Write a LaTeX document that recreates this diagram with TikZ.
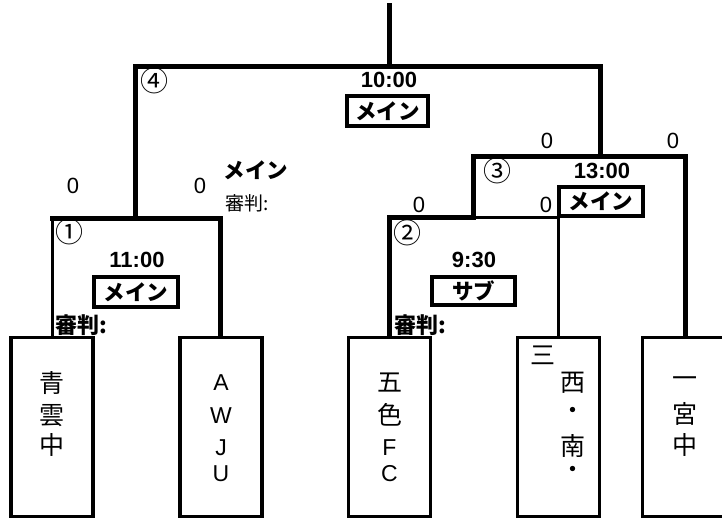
\documentclass[tikz,border=0pt]{standalone}
\usepackage{fontspec}
\setmainfont{Liberation Sans}
\newfontfamily\jp{Noto Sans CJK JP}
\usetikzlibrary{calc}
\begin{document}
\begin{tikzpicture}[x=1pt,y=-1pt,
  thickl/.style={line width=5pt,line cap=rect,line join=miter},
  thinl/.style={line width=3pt,line cap=rect},
  team/.style={draw,line width=3.3pt,minimum width=82pt,minimum height=179pt,inner sep=0pt},
  boxtxt/.style={inner sep=0pt,font=\fontsize{23}{23}\selectfont},
  boxjp/.style={inner sep=0pt,font=\fontsize{25}{25}\selectfont\jp},
  score/.style={inner sep=0pt,font=\fontsize{22}{22}\selectfont},
  timelbl/.style={inner sep=0pt,font=\fontsize{22}{22}\selectfont\bfseries},
  circ/.style={inner sep=0pt,font=\fontsize{28}{28}\selectfont\jp},
  court/.style={draw,line width=4pt,inner sep=0pt,font=\fontsize{21.5}{21.5}\selectfont\jp\bfseries},
  judge/.style={inner sep=0pt,anchor=west,font=\fontsize{22}{22}\selectfont\jp\bfseries},
]
\useasboundingbox (0,0) rectangle (722,519);

% team boxes
\node[team] (b1) at (52,427) {};
\node[team] (b2) at (221,427) {};
\node[team] (b3) at (389.5,427) {};
\node[team] (b4) at (558.3,427) {};
\node[team] (b5) at (683.3,427) {};

% team names
\foreach \c/\y [count=\i] in {青/383.5,雲/416,中/445}
  \node[boxjp] (n1-\i) at (52,\y) {\c};
\foreach \c/\y [count=\i] in {A/383,W/415.5,J/447.5,U/474}
  \node[boxtxt] (n2-\i) at (221,\y) {\c};
\foreach \c/\y [count=\i] in {五/383,色/415}
  \node[boxjp] (n3-\i) at (389.5,\y) {\c};
\foreach \c/\y [count=\i] in {F/448,C/474}
  \node[boxtxt] (n3b-\i) at (389.5,\y) {\c};
\node[boxjp] (n4-0) at (543,355) {三};
\foreach \c/\y [count=\i] in {西/383,・/413,南/446,・/472}
  \node[boxjp] (n4-\i) at (573,\y) {\c};
\foreach \c/\y [count=\i] in {一/382,宮/414,中/445}
  \node[boxjp] (n5-\i) at (685,\y) {\c};

% bracket coordinates
\coordinate (top) at (389.5,5.5);
\coordinate (t4) at (389.5,66.7);
\coordinate (l4) at (135.3,66.7);
\coordinate (r4) at (600.3,66.7);
\coordinate (l1) at (52.3,218);
\coordinate (m1) at (135.3,218);
\coordinate (r1) at (220.8,218);
\coordinate (l3) at (473.8,156.5);
\coordinate (m3) at (600.3,156.5);
\coordinate (r3) at (685.5,156.5);
\coordinate (l2) at (389.5,217);
\coordinate (m2) at (473.8,217);
\coordinate (r2) at (558.7,217);

% brackets
\draw[thickl] (top) -- (t4);
\draw[thickl] (m1) -- (l4) -- (r4) -- (m3);
\draw[thinl] (l1) -- (l1 |- b1.north);
\draw[thickl] (l1) -- (r1) -- (r1 |- b2.north);
\draw[thickl] (m2) -- (l3) -- (r3) -- (r3 |- b5.north);
\draw[thickl] (l2 |- b3.north) -- (l2) -- (m2);
\draw[thinl] (m2) -- (r2) -- (r2 |- b4.north);

% match numbers
\node[circ] (c4) at (154,81) {④};
\node[circ] (c1) at (69,232) {①};
\node[circ] (c2) at (407,233) {②};
\node[circ] (c3) at (497,171) {③};

% times
\node[timelbl] (tm4) at (389,80) {10:00};
\node[timelbl] (tm1) at (137,260) {11:00};
\node[timelbl] (tm2) at (474,260) {9:30};
\node[timelbl] (tm3) at (602,171) {13:00};

% courts
\node[court,minimum width=81pt,minimum height=30pt] (k4) at (387.5,111) {メイン};
\node[court,minimum width=84pt,minimum height=30pt] (k1) at (136,292) {メイン};
\node[court,minimum width=83pt,minimum height=28pt] (k2) at (473.5,291) {サブ};
\node[court,minimum width=84pt,minimum height=29pt] (k3) at (601,201.5) {メイン};

% scores
\node[score] (s1) at (73,186) {0};
\node[score] (s2) at (200,186) {0};
\node[score] (s3) at (547,141) {0};
\node[score] (s4) at (673,141) {0};
\node[score] (s5) at (419,205) {0};
\node[score] (s6) at (546,205) {0};

% extra labels
\node[inner sep=0pt,font=\fontsize{21.5}{21.5}\selectfont\jp\bfseries] (x1) at (256,170) {メイン};
\node[inner sep=0pt,anchor=west,font=\fontsize{19}{19}\selectfont\jp] (x2) at (225,203) {審判:};
\node[judge] (j1) at (55,325) {審判:};
\node[judge] (j2) at (394,325) {審判:};
\end{tikzpicture}
\end{document}
